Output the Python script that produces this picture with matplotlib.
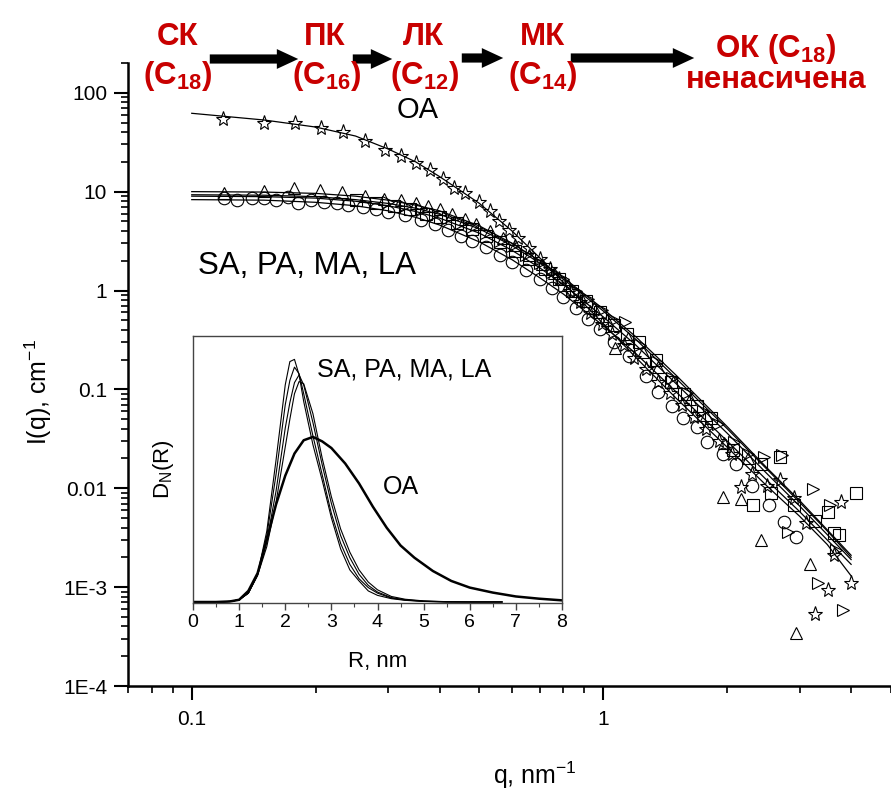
import numpy as np
import matplotlib
matplotlib.use("Agg")
import matplotlib.pyplot as plt
from matplotlib.patches import FancyArrowPatch
from matplotlib.ticker import FixedLocator, LogLocator, NullFormatter, NullLocator

plt.rcParams['font.family'] = ['Liberation Sans', 'DejaVu Sans']
plt.rcParams['mathtext.default'] = 'regular'

# ---- main plot: SAXS curves I(q) ----
q_fit = [0.1, 0.15, 0.2, 0.25, 0.3, 0.35, 0.4, 0.5, 0.6, 0.7, 0.8, 1.0, 1.2, 1.5, 2.0, 2.5, 3.0, 3.5, 4.0]
fit_oa = [62, 53, 45, 36.5, 27, 20, 14.2, 7.6, 4.0, 2.15, 1.2, 0.46, 0.21, 0.082, 0.026, 0.0105, 0.0052, 0.0027, 0.0013]
fit_1 = [10.0, 9.9, 9.6, 9.0, 8.2, 7.3, 6.4, 4.5, 3.0, 2.0, 1.35, 0.65, 0.34, 0.14, 0.042, 0.016, 0.0075, 0.0038, 0.0021]
fit_2 = [9.3, 9.2, 8.9, 8.3, 7.6, 6.8, 5.9, 4.2, 2.85, 1.9, 1.3, 0.62, 0.32, 0.13, 0.040, 0.0155, 0.0072, 0.0037, 0.0020]
fit_3 = [9.0, 8.9, 8.6, 8.0, 7.2, 6.3, 5.4, 3.8, 2.55, 1.7, 1.15, 0.54, 0.28, 0.115, 0.036, 0.014, 0.0066, 0.0034, 0.0019]
fit_4 = [8.3, 8.2, 7.8, 7.2, 6.4, 5.5, 4.6, 3.1, 2.05, 1.35, 0.92, 0.44, 0.23, 0.095, 0.030, 0.012, 0.0058, 0.0030, 0.0017]

q_star = [0.119, 0.150, 0.178, 0.206, 0.233, 0.264, 0.295, 0.323, 0.351, 0.380, 0.408, 0.434, 0.461, 0.498,
          0.53, 0.557, 0.59, 0.62, 0.66, 0.70, 0.74, 0.78, 0.83, 0.88, 0.93, 0.99, 1.05, 1.12, 1.19, 1.27,
          1.36, 1.45, 1.55, 1.66, 1.78, 1.91, 2.05, 2.16, 2.3, 2.5, 2.68, 2.91, 3.1, 3.26, 3.51, 3.64, 3.78, 4.0]
i_star = [54, 49.4, 50, 44, 39.7, 32.7, 26.5, 23, 19.4, 16.6, 13.4, 10.9, 9.7, 7.8,
          6.4, 5.0, 4.1, 3.4, 2.7, 2.1, 1.65, 1.3, 0.98, 0.76, 0.59, 0.46, 0.36, 0.28, 0.21, 0.16,
          0.12, 0.092, 0.07, 0.052, 0.040, 0.030, 0.022, 0.0104, 0.014, 0.0105, 0.0122, 0.0079, 0.0045,
          0.00053, 0.00093, 0.0021, 0.0072, 0.0011]

q_circ = [0.120, 0.129, 0.140, 0.150, 0.160, 0.171, 0.181, 0.195, 0.210, 0.225, 0.240, 0.26, 0.28, 0.30,
          0.33, 0.36, 0.39, 0.42, 0.45, 0.48, 0.52, 0.56, 0.60, 0.65, 0.70, 0.75, 0.80, 0.86, 0.92, 0.98,
          1.06, 1.155, 1.27, 1.355, 1.47, 1.56, 1.69, 1.79, 1.95, 2.10, 2.3, 2.53, 2.75, 2.94]
i_circ = [8.6, 8.3, 8.6, 8.6, 8.3, 8.9, 7.7, 8.2, 7.9, 7.6, 7.3, 7.0, 6.7, 6.2,
          5.8, 5.2, 4.7, 4.1, 3.6, 3.2, 2.75, 2.3, 1.95, 1.6, 1.3, 1.05, 0.85, 0.66, 0.52, 0.41,
          0.30, 0.216, 0.137, 0.095, 0.068, 0.051, 0.042, 0.0297, 0.022, 0.0174, 0.0105, 0.0068, 0.0046, 0.0032]

q_tri = [0.12, 0.15, 0.177, 0.205, 0.232, 0.264, 0.293, 0.322, 0.35, 0.374, 0.40, 0.43, 0.46, 0.49,
         0.53, 0.57, 0.61, 0.66, 0.71, 0.76, 0.82, 0.88, 0.95, 1.02, 1.07, 1.15, 1.25, 1.36, 1.48,
         1.62, 1.78, 1.95, 1.96, 2.16, 2.25, 2.42, 2.94, 3.17]
i_tri = [9.8, 10.2, 10.8, 10.4, 10.0, 9.1, 8.4, 8.3, 7.6, 7.1, 6.6, 5.9, 5.3, 4.7,
         4.0, 3.4, 2.9, 2.3, 1.85, 1.5, 1.15, 0.88, 0.66, 0.50, 0.26, 0.33, 0.24, 0.17, 0.12,
         0.08, 0.055, 0.0082, 0.0285, 0.0077, 0.020, 0.0030, 0.00034, 0.0017]

q_rtri = [0.30, 0.33, 0.36, 0.39, 0.42, 0.45, 0.48, 0.52, 0.56, 0.60, 0.65, 0.70, 0.75, 0.80, 0.86,
          0.92, 0.99, 1.06, 1.13, 1.23, 1.35, 1.47, 1.60, 1.75, 1.9, 2.08, 2.25, 2.46, 2.71, 2.81,
          3.23, 3.32, 3.55, 3.68, 3.82]
i_rtri = [7.8, 7.2, 6.6, 6.0, 5.4, 4.8, 4.4, 3.8, 3.2, 2.8, 2.3, 1.9, 1.55, 1.3, 1.0,
          0.82, 0.64, 0.50, 0.48, 0.28, 0.19, 0.13, 0.091, 0.06, 0.045, 0.0297, 0.022, 0.0206, 0.0215, 0.0036,
          0.0099, 0.0011, 0.0068, 0.0024, 0.00059]

q_sq = [0.25, 0.28, 0.31, 0.34, 0.37, 0.40, 0.44, 0.48, 0.52, 0.56, 0.61, 0.66, 0.72, 0.78, 0.84,
        0.91, 0.98, 1.06, 1.14, 1.22, 1.34, 1.46, 1.57, 1.69, 1.83, 2.06, 2.31, 2.42, 2.56, 2.68,
        2.91, 3.26, 3.51, 3.64, 3.74, 4.12]
i_sq = [8.2, 7.7, 7.2, 6.6, 6.0, 5.5, 4.8, 4.2, 3.6, 3.1, 2.5, 2.1, 1.65, 1.3, 1.0,
        0.78, 0.60, 0.45, 0.36, 0.30, 0.20, 0.12, 0.09, 0.068, 0.051, 0.0242, 0.0068, 0.0174, 0.0089, 0.0208,
        0.0068, 0.0047, 0.0058, 0.0035, 0.0034, 0.0089]

y_ticks = [1e-4, 1e-3, 1e-2, 0.1, 1, 10, 100]
y_ticklabels = ['1E-4', '1E-3', '0.01', '0.1', '1', '10', '100']
x_ticks = [0.1, 1]
x_ticklabels = ['0.1', '1']

# ---- inset: size distributions D_N(R) ----
r_grid = [0, 0.5, 0.8, 1.0, 1.2, 1.4, 1.6, 1.8, 2.0, 2.1, 2.2, 2.3, 2.4, 2.6, 2.8, 3.0, 3.2, 3.4,
          3.6, 3.8, 4.0, 4.3, 4.6, 5.0, 5.5, 6.0, 6.7]
dn_sa = [0, 0, 0.0005, 0.002, 0.008, 0.025, 0.064, 0.128, 0.196, 0.217, 0.219, 0.205, 0.181, 0.142,
         0.110, 0.076, 0.048, 0.029, 0.019, 0.010, 0.006, 0.003, 0.0015, 0.0005, 0, 0, 0]
dn_pa = [0, 0, 0.0005, 0.002, 0.008, 0.025, 0.060, 0.115, 0.178, 0.200, 0.212, 0.206, 0.188, 0.150,
         0.115, 0.080, 0.053, 0.034, 0.021, 0.013, 0.008, 0.0035, 0.0018, 0.0006, 0.0001, 0, 0]
dn_ma = [0, 0, 0.0005, 0.002, 0.008, 0.024, 0.055, 0.100, 0.157, 0.180, 0.198, 0.205, 0.196, 0.162,
         0.124, 0.089, 0.060, 0.040, 0.025, 0.015, 0.009, 0.004, 0.002, 0.0008, 0.0002, 0, 0]
dn_la = [0, 0, 0.0005, 0.002, 0.008, 0.024, 0.050, 0.090, 0.140, 0.165, 0.188, 0.199, 0.197, 0.170,
         0.130, 0.095, 0.066, 0.045, 0.029, 0.018, 0.011, 0.005, 0.0025, 0.001, 0.0003, 0, 0]
r_oa = [0, 0.5, 0.8, 1.0, 1.2, 1.4, 1.6, 1.8, 2.0, 2.2, 2.4, 2.6, 2.8, 3.0, 3.3, 3.6, 3.9, 4.2,
        4.5, 4.8, 5.2, 5.6, 6.0, 6.5, 7.0, 7.5, 8.0]
dn_oa = [0, 0, 0.0005, 0.002, 0.010, 0.026, 0.056, 0.088, 0.114, 0.134, 0.146, 0.149, 0.145, 0.139,
         0.125, 0.107, 0.086, 0.067, 0.051, 0.040, 0.028, 0.019, 0.013, 0.0085, 0.005, 0.003, 0.0015]

W, H = 891, 790
fig = plt.figure(figsize=(W / 100, H / 100), dpi=100, facecolor='white')


def fx(px):
    return px / W


def fy(py):
    return 1 - py / H


ax = fig.add_axes([fx(128), fy(686), fx(891) - fx(128), fy(63) - fy(686)])
ax.set_xscale('log')
ax.set_yscale('log')

line_kw = dict(color='black', lw=0.9)
for f in (fit_1, fit_2, fit_3, fit_4):
    ax.plot(q_fit, f, **line_kw)
ax.plot(q_fit, fit_oa, **line_kw)

mk = dict(ls='none', mfc='none', mec='black', mew=0.8, ms=9)
ax.plot(q_circ, i_circ, marker='o', **mk)
ax.plot(q_tri, i_tri, marker='^', **mk)
ax.plot(q_rtri, i_rtri, marker='>', **mk)
ax.plot(q_sq, i_sq, marker='s', **dict(mk, ms=8))
ax.plot(q_star, i_star, marker='*', **dict(mk, ms=11))

ax.set_xlim(0.07, 5.0)
ax.set_ylim(1e-4, 200)
for s in ('top', 'right'):
    ax.spines[s].set_visible(False)
for s in ('left', 'bottom'):
    ax.spines[s].set_linewidth(1.8)

ax.xaxis.set_major_locator(FixedLocator(x_ticks))
ax.set_xticklabels(x_ticklabels)
ax.xaxis.set_minor_locator(LogLocator(base=10, subs=np.arange(2, 10)))
ax.xaxis.set_minor_formatter(NullFormatter())
ax.yaxis.set_major_locator(FixedLocator(y_ticks))
ax.set_yticklabels(y_ticklabels)
ax.yaxis.set_minor_locator(LogLocator(base=10, subs=np.arange(2, 10)))
ax.yaxis.set_minor_formatter(NullFormatter())
ax.tick_params(which='major', direction='out', length=10, width=1.5, labelsize=15, color='black')
ax.tick_params(which='minor', direction='out', length=5, width=1.2)
ax.tick_params(axis='x', which='major', pad=7)
ax.tick_params(axis='y', which='major', pad=5)

ax.set_xlabel('q, nm$^{-1}$', fontsize=18)
ax.set_ylabel('I(q), cm$^{-1}$', fontsize=18)
ax.xaxis.set_label_coords((535 - 128) / 763, (686 - 760) / 623)
ax.yaxis.set_label_coords((54 - 128) / 763, (686 - 392) / 623)

fig.text(fx(418), fy(110), 'OA', fontsize=21, ha='center', va='center')
fig.text(fx(198), fy(266), 'SA, PA, MA, LA', fontsize=22.5, ha='left', va='center')

# inset
ax2 = fig.add_axes([fx(193), fy(603), fx(562) - fx(193), fy(336) - fy(603)])
ax2.plot(r_grid, dn_sa, color='black', lw=0.8)
ax2.plot(r_grid, dn_pa, color='black', lw=0.8)
ax2.plot(r_grid, dn_ma, color='black', lw=0.8)
ax2.plot(r_grid, dn_la, color='black', lw=0.8)
ax2.plot(r_oa, dn_oa, color='black', lw=1.8)
ax2.set_xlim(0, 8)
ax2.set_ylim(-0.0009, 0.2401)
for s in ax2.spines.values():
    s.set_linewidth(1.0)
    s.set_color('#444444')
ax2.set_xticks(range(0, 9))
ax2.xaxis.set_minor_locator(FixedLocator(np.arange(0.5, 8, 1.0)))
ax2.yaxis.set_major_locator(NullLocator())
ax2.tick_params(axis='x', which='major', direction='out', length=5, width=1.0, labelsize=14, pad=3, color='#444444')
ax2.tick_params(axis='x', which='minor', direction='out', length=3, width=0.8, color='#444444')
ax2.set_xlabel('R, nm', fontsize=16, labelpad=14)
ax2.set_ylabel('D$_N$(R)', fontsize=16, labelpad=12)
ax2.text(0.335, 0.876, 'SA, PA, MA, LA', transform=ax2.transAxes, fontsize=18, ha='left', va='center')
ax2.text(0.515, 0.434, 'OA', transform=ax2.transAxes, fontsize=18, ha='left', va='center')

# red header: acid sequence
red = '#C80000'
hdr = dict(color=red, fontsize=22.5, fontweight='bold', ha='center', va='center')
fig.text(fx(178), fy(37), 'СК', **hdr)
fig.text(fx(178), fy(76), '(C$_{18}$)', **hdr)
fig.text(fx(325), fy(37), 'ПК', **hdr)
fig.text(fx(327), fy(76), '(C$_{16}$)', **hdr)
fig.text(fx(423), fy(37), 'ЛК', **hdr)
fig.text(fx(425), fy(76), '(C$_{12}$)', **hdr)
fig.text(fx(542), fy(37), 'МК', **hdr)
fig.text(fx(543), fy(76), '(C$_{14}$)', **hdr)
fig.text(fx(776), fy(49), 'ОК (C$_{18}$)', **hdr)
fig.text(fx(776), fy(80), 'ненасичена', **hdr)

for x0, x1, yy in [(207, 301, 59), (350, 395, 59), (459, 506, 58), (568, 697, 58)]:
    arr = FancyArrowPatch((fx(x0), fy(yy)), (fx(x1), fy(yy)), transform=fig.transFigure,
                          arrowstyle='simple,head_length=1.4,head_width=1.3,tail_width=0.6',
                          mutation_scale=11, color='black', lw=0)
    fig.add_artist(arr)

fig.savefig('out.png', dpi=100)
